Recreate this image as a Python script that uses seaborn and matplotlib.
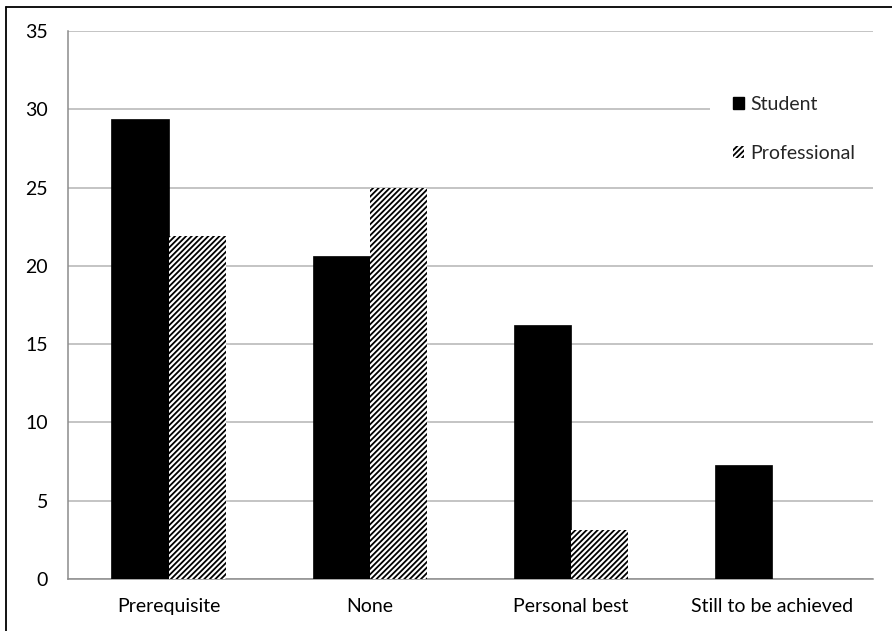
import matplotlib
matplotlib.use("Agg")
import matplotlib.pyplot as plt
import seaborn as sns
import pandas as pd
from matplotlib.patches import Patch, Rectangle
from matplotlib.lines import Line2D

categories = ["Prerequisite", "None", "Personal best", "Still to be achieved"]
student = [29.4, 20.6, 16.2, 7.3]
professional = [21.9, 25.0, 3.1, 0.0]
groups = ["Student", "Professional"]
y_ticks = [0, 5, 10, 15, 20, 25, 30, 35]

df = pd.DataFrame({
    "category": categories * 2,
    "group": [groups[0]] * len(categories) + [groups[1]] * len(categories),
    "value": student + professional,
})

sns.set_theme(style="white")
plt.rcParams["font.family"] = ["Lato", "DejaVu Sans"]
plt.rcParams["hatch.linewidth"] = 1.3
plt.rcParams["hatch.color"] = "black"

FS = 14

fig = plt.figure(figsize=(8.92, 6.31), dpi=100)
ax = fig.add_axes([68 / 892, 1 - 579 / 631, (873 - 68) / 892, (579 - 31) / 631])

sns.barplot(data=df, x="category", y="value", hue="group", order=categories,
            hue_order=groups, palette=["black", "white"], width=0.57,
            saturation=1, ax=ax, legend=False, zorder=3)

n = len(categories)
for i, patch in enumerate(ax.patches):
    if i >= n:
        patch.set_hatch("//////")
        patch.set_edgecolor("black")
        patch.set_linewidth(0)
    else:
        patch.set_edgecolor("black")
        patch.set_linewidth(0.5)

grid_col = "#b4b4b4"
axis_col = "#8c8c8c"
ax.set_ylim(0, 35)
ax.set_xlim(-0.5, n - 0.5)
ax.set_yticks(y_ticks)
ax.set_yticklabels([str(t) for t in y_ticks], fontsize=FS)
ax.yaxis.grid(True, color=grid_col, linewidth=1.1, zorder=0)
ax.set_axisbelow(True)
ax.set_xlabel("")
ax.set_ylabel("")
ax.set_xticks(range(n))
ax.set_xticklabels(categories, fontsize=FS)
ax.set_xticks([i - 0.5 for i in range(n + 1)], minor=True)
ax.tick_params(axis="x", which="major", length=0, pad=14, labelcolor="black")
ax.tick_params(axis="x", which="minor", length=3.5, color=axis_col, width=1)
ax.tick_params(axis="y", which="major", length=4.3, color=axis_col, width=1,
               pad=10, labelcolor="black")

for side in ["top", "right"]:
    ax.spines[side].set_visible(False)
for side in ["left", "bottom"]:
    ax.spines[side].set_color(axis_col)
    ax.spines[side].set_linewidth(1.1)

# white backing behind the legend, hiding the gridline it sits on
ax.add_patch(Rectangle((710 / 892, 1 - 178 / 631), (873 - 710) / 892, 85 / 631,
                       transform=fig.transFigure, facecolor="white", edgecolor="none",
                       zorder=1, clip_on=False))

handles = [
    Patch(facecolor="black", edgecolor="black", label=groups[0]),
    Patch(facecolor="white", edgecolor="black", hatch="//////", linewidth=0, label=groups[1]),
]
leg = ax.legend(handles=handles, loc="upper left", bbox_to_anchor=(719 / 892, 1 - 82 / 631),
                bbox_transform=fig.transFigure, frameon=False,
                fontsize=FS, handlelength=0.6, handleheight=0.6,
                handletextpad=0.3, labelspacing=1.65, borderpad=0.2)
leg.set_zorder(5)

# outer frame lines of the chart area
fig.add_artist(Line2D([6 / 892, 6 / 892], [0, 1 - 7 / 631], transform=fig.transFigure,
                      color="black", linewidth=1.3))
fig.add_artist(Line2D([6 / 892, 1], [1 - 7 / 631, 1 - 7 / 631], transform=fig.transFigure,
                      color="black", linewidth=1.3))

fig.savefig("out.png", dpi=100, facecolor="white")
